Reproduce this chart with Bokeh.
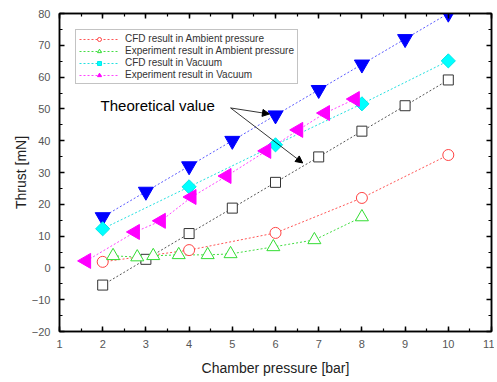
import math
from bokeh.plotting import figure
from bokeh.models import (Range1d, LinearAxis, SingleIntervalTicker, Legend, LegendItem,
                          Label, Arrow, NormalHead, CustomJSTickFormatter)
from bokeh.embed import file_html
from bokeh.resources import INLINE

# ---- data ----
pressure = [2, 3, 4, 5, 6, 7, 8, 9, 10]
theory_ambient = [-5.4, 2.7, 10.8, 18.8, 26.9, 34.9, 43.0, 51.0, 59.1]
theory_vacuum = [16, 24, 32, 40, 48, 56, 64, 72, 80]

cfd_pressure = [2, 4, 6, 8, 10]
cfd_ambient = [1.9, 5.6, 11.0, 22.0, 35.5]
cfd_vacuum = [12.3, 25.5, 38.7, 51.6, 65.1]

exp_amb_pressure = [2.24, 2.8, 3.17, 3.76, 4.43, 4.96, 5.95, 6.9, 8.0]
exp_ambient = [3.8, 3.4, 3.8, 4.1, 4.1, 4.4, 6.6, 8.8, 16.0]

exp_vac_pressure = [1.62, 2.75, 3.35, 4.06, 4.87, 5.79, 6.53, 7.15, 7.84]
exp_vacuum = [2.2, 11.3, 14.8, 22.3, 28.9, 36.8, 43.4, 48.7, 53.1]

note_text = "Theoretical value"
note_pos = (1.95, 51.0)
arrow_start = (4.96, 50.3)
arrow_ends = [(5.86, 48.4), (6.63, 33.0)]

FONT = "Liberation Sans"

p = figure(width=494, height=380, output_backend="svg", toolbar_location=None,
           x_range=Range1d(1, 11), y_range=Range1d(-20, 80),
           x_axis_type=None, y_axis_type=None,
           min_border_left=59, min_border_top=13, min_border_right=3, min_border_bottom=49)
p.background_fill_color = "white"
p.border_fill_color = "white"
p.outline_line_color = "black"
p.outline_line_width = 1.5
p.xgrid.visible = False
p.ygrid.visible = False


def style_axis(ax, labels=True):
    ax.axis_line_color = "black"
    ax.axis_line_width = 1.5
    ax.major_tick_in = 5
    ax.major_tick_out = 0
    ax.minor_tick_in = 3
    ax.minor_tick_out = 0
    ax.major_tick_line_color = "black"
    ax.minor_tick_line_color = "black"
    ax.major_tick_line_width = 1.5
    ax.minor_tick_line_width = 1.2
    ax.major_label_text_font = FONT
    ax.axis_label_text_font = FONT
    ax.axis_label_text_font_style = "normal"
    ax.axis_label_text_color = "#222222"
    ax.major_label_text_font_size = "11px"
    ax.major_label_text_color = "#555555"
    ax.axis_label_text_font_size = "14px"
    if not labels:
        ax.formatter = CustomJSTickFormatter(code="return ''")
        ax.major_label_standoff = 0


xt = lambda: SingleIntervalTicker(interval=1, num_minor_ticks=2)
yt = lambda: SingleIntervalTicker(interval=10, num_minor_ticks=2)

xb = LinearAxis(ticker=xt(), axis_label="Chamber pressure [bar]")
style_axis(xb)
xb.major_label_standoff = 8
xb.axis_label_standoff = 9
p.add_layout(xb, "below")

yl = LinearAxis(ticker=yt(), axis_label="Thrust [mN]")
style_axis(yl)
yl.major_label_standoff = 9
yl.axis_label_standoff = 0
p.add_layout(yl, "left")

xa = LinearAxis(ticker=xt())
style_axis(xa, labels=False)
p.add_layout(xa, "above")

yr = LinearAxis(ticker=yt())
style_axis(yr, labels=False)
p.add_layout(yr, "right")

DASH = "2 2"

# theoretical lines (not in legend)
p.line(pressure, theory_vacuum, line_color="#5a5aff", line_dash=DASH, line_width=1)
p.line(pressure, theory_ambient, line_color="#555555", line_dash=DASH, line_width=1)

l_red = p.line(cfd_pressure, cfd_ambient, line_color="#ff5555", line_dash=DASH, line_width=1)
l_green = p.line(exp_amb_pressure, exp_ambient, line_color="#44dd44", line_dash=DASH, line_width=1)
l_cyan = p.line(cfd_pressure, cfd_vacuum, line_color="#22e0e0", line_dash=DASH, line_width=1)
l_mag = p.line(exp_vac_pressure, exp_vacuum, line_color="#ff44ff", line_dash=DASH, line_width=1)

p.scatter(pressure, theory_vacuum, marker="inverted_triangle", size=15,
          fill_color="#0000ff", line_color="#0000ff")
p.scatter(pressure, theory_ambient, marker="square", size=10,
          fill_color="white", line_color="#333333", line_width=1)

s_red = p.scatter(cfd_pressure, cfd_ambient, marker="circle", size=11,
                  fill_color="white", line_color="#ff4444", line_width=1)
s_green = p.scatter(exp_amb_pressure, exp_ambient, marker="triangle", size=13,
                    fill_color="white", line_color="#33dd33", line_width=1)
s_cyan = p.scatter(cfd_pressure, cfd_vacuum, marker="square", size=10, angle=math.pi / 4,
                   fill_color="#00ffff", line_color="#00e8e8")
s_mag = p.scatter(exp_vac_pressure, exp_vacuum, marker="triangle", size=15, angle=math.pi / 2,
                  fill_color="#ff00ff", line_color="#ff00ff")

legend = Legend(items=[
    LegendItem(label="CFD result in Ambient pressure", renderers=[l_red, s_red]),
    LegendItem(label="Experiment result in Ambient pressure", renderers=[l_green, s_green]),
    LegendItem(label="CFD result in Vacuum", renderers=[l_cyan, s_cyan]),
    LegendItem(label="Experiment result in Vacuum", renderers=[l_mag, s_mag]),
], location=(16, 247))
legend.label_text_font = FONT
legend.label_text_font_size = "10px"
legend.label_text_color = "#333333"
legend.label_height = 10
legend.glyph_height = 10
legend.glyph_width = 40
legend.label_standoff = 6
legend.spacing = 1
legend.padding = 3
legend.margin = 0
legend.border_line_color = "#888888"
legend.border_line_width = 1
legend.background_fill_alpha = 1
p.add_layout(legend, "center")

p.add_layout(Label(x=note_pos[0], y=note_pos[1], text=note_text, text_font=FONT,
                   text_font_size="15px", text_color="black", text_baseline="middle"))
for (xe, ye) in arrow_ends:
    p.add_layout(Arrow(end=NormalHead(size=7, fill_color="black", line_color="black"),
                       x_start=arrow_start[0], y_start=arrow_start[1], x_end=xe, y_end=ye,
                       line_color="black", line_width=0.8))

open("out.html", "w").write(file_html(p, INLINE))
